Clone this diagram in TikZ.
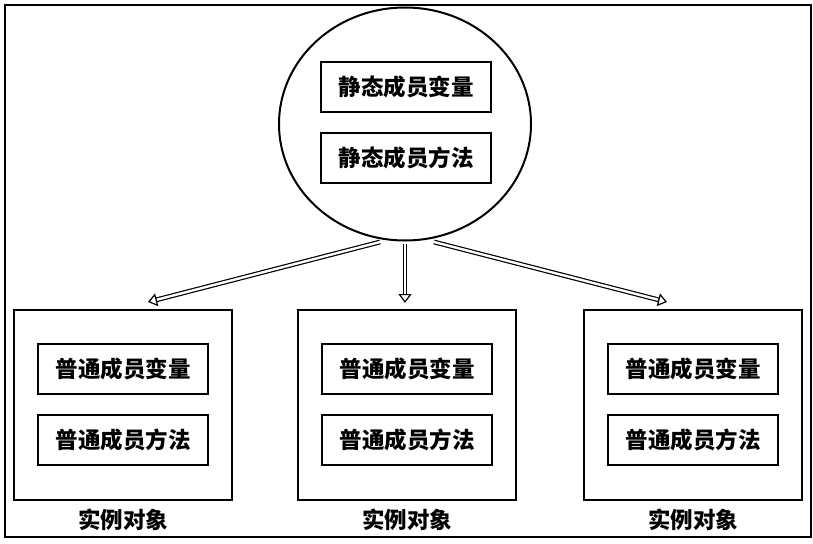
\documentclass[tikz,border=0pt]{standalone}
\usepackage{fontspec}
\newfontfamily\cjk{Noto Sans CJK SC}
\usetikzlibrary{arrows.meta,shapes.geometric}
\begin{document}
\begin{tikzpicture}[x=1pt,y=-1pt,
  member/.style={draw, line width=2.2pt, minimum width=170pt, minimum height=50pt, font=\cjk\bfseries\fontsize{22.5}{26}\selectfont, inner sep=0pt},
  inst/.style={draw, line width=2.2pt, minimum width=218pt, minimum height=190pt, inner sep=0pt},
  lbl/.style={font=\cjk\bfseries\fontsize{22.5}{26}\selectfont},
  dbl/.style={draw, double=white, double distance=2.4pt, line width=1.2pt, -{Triangle[open, length=9pt, width=13pt]}}
]
\useasboundingbox (0,0) rectangle (813,543);
\node[draw, line width=2pt, minimum width=806pt, minimum height=532pt, inner sep=0pt] (frame) at (408,271) {};
\node[ellipse, draw, line width=2pt, minimum width=252pt, minimum height=233pt, inner sep=0pt] (cls) at (405,124) {};
\node[member] (sv) at (406,87) {静态成员变量};
\node[member] (sm) at (406,158) {静态成员方法};

\foreach \n/\cx in {a/123, b/407, c/693}{
  \node[inst] (\n) at (\cx,405) {};
  \node[member] (\n v) at (\cx,369) {普通成员变量};
  \node[member] (\n m) at (\cx,440) {普通成员方法};
  \node[lbl] (\n l) at (\cx,520) {实例对象};
}

\coordinate (sa) at (380,242);
\coordinate (sb) at (405,244);
\coordinate (sc) at (434,242);
\coordinate (ea) at (148,302);
\coordinate (eb) at (405,303);
\coordinate (ec) at (667,302);
\draw[dbl] (sa) -- (ea);
\draw[dbl] (sb) -- (eb);
\draw[dbl] (sc) -- (ec);
\end{tikzpicture}
\end{document}
